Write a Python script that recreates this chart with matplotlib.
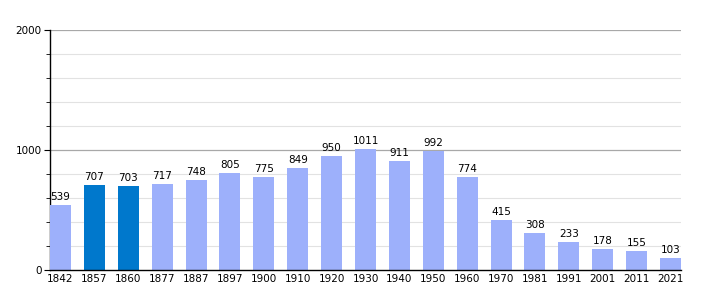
import numpy as np
import matplotlib.pyplot as plt
from matplotlib.ticker import MultipleLocator

years = ["1842", "1857", "1860", "1877", "1887", "1897", "1900", "1910", "1920", "1930",
         "1940", "1950", "1960", "1970", "1981", "1991", "2001", "2011", "2021"]
population = [539, 707, 703, 717, 748, 805, 775, 849, 950, 1011,
              911, 992, 774, 415, 308, 233, 178, 155, 103]
highlight = ["1857", "1860"]

light = '#9db0fb'
dark = '#0078cc'

fig = plt.figure(figsize=(7.1, 3.0), dpi=100)
ax = fig.add_axes([50 / 710, 30 / 300, 631 / 710, 240 / 300])

x = np.arange(len(years))
w = 0.62
colors = [dark if y in highlight else light for y in years]
ax.bar(x, population, width=w, color=colors, zorder=3)

for xi, v in zip(x, population):
    ax.text(xi, v + 25, str(v), ha='center', va='bottom', fontsize=7.5, zorder=4)

ax.set_xlim(-w / 2, len(years) - 1 + w / 2)
ax.set_ylim(0, 2000)
ax.set_xticks(x)
ax.set_xticklabels(years, fontsize=7.5)
ax.tick_params(axis='x', length=0, pad=3)

ax.yaxis.set_major_locator(MultipleLocator(1000))
ax.yaxis.set_minor_locator(MultipleLocator(200))
ax.tick_params(axis='y', which='major', length=4, labelsize=7.5, pad=2)
ax.tick_params(axis='y', which='minor', length=3)

for yv in range(200, 2001, 200):
    if yv % 1000 == 0:
        ax.axhline(yv, color='#a8a8a8', linewidth=0.9, zorder=1)
    else:
        ax.axhline(yv, color='#e2e2e2', linewidth=0.8, zorder=1)

for s in ['top', 'right']:
    ax.spines[s].set_visible(False)
ax.spines['left'].set_linewidth(1.0)
ax.spines['bottom'].set_linewidth(1.0)
ax.spines['bottom'].set_zorder(5)

plt.savefig('out.png', dpi=100)
